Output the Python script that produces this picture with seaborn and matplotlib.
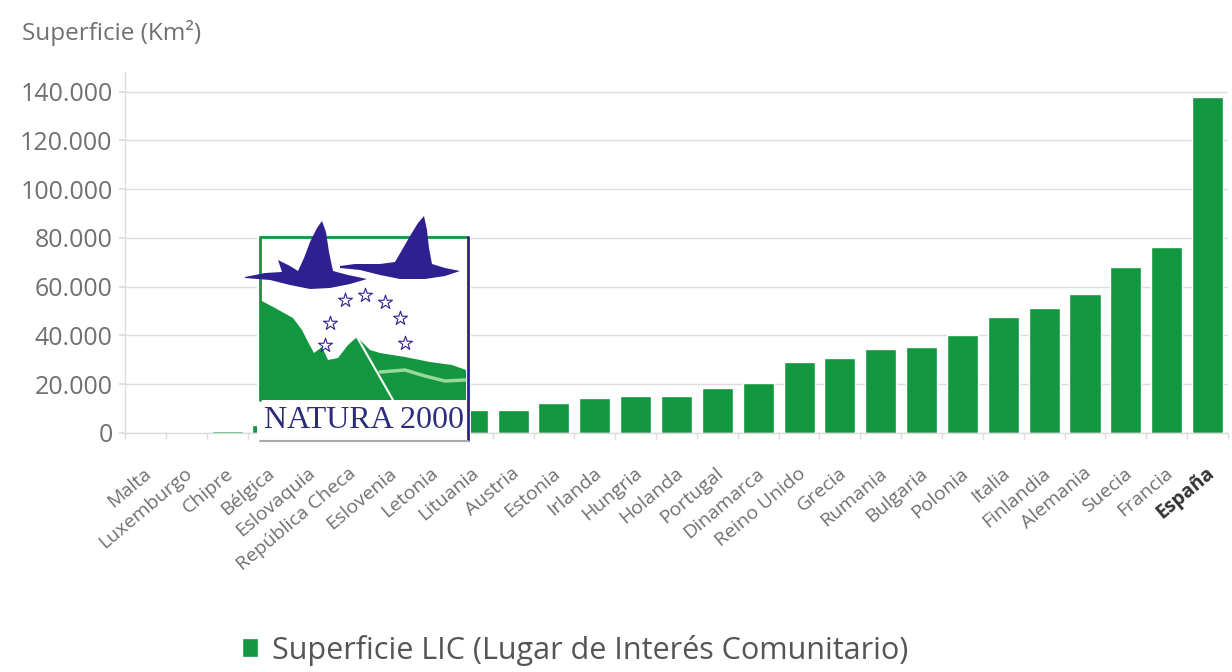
import matplotlib
matplotlib.use("Agg")
import matplotlib.pyplot as plt
import matplotlib.transforms as mtransforms
from matplotlib.patches import Polygon, Rectangle
import seaborn as sns
import pandas as pd
import numpy as np

# datos (km2)
paises = ["Malta", "Luxemburgo", "Chipre", "Bélgica", "Eslovaquia", "República Checa",
          "Eslovenia", "Letonia", "Lituania", "Austria", "Estonia", "Irlanda", "Hungria",
          "Holanda", "Portugal", "Dinamarca", "Reino Unido", "Grecia", "Rumania", "Bulgaria",
          "Polonia", "Italia", "Finlandia", "Alemania", "Suecia", "Francia", "España"]
superficie_lic = [40, 400, 750, 3200, 5700, 7300,
                  7400, 7800, 9300, 9300, 12400, 14500, 15200,
                  15200, 18300, 20400, 29300, 30700, 34400, 35200,
                  40300, 47500, 51300, 57100, 68200, 76100, 137700]
serie = "Superficie LIC (Lugar de Interés Comunitario)"
y_ticks = [0, 20000, 40000, 60000, 80000, 100000, 120000, 140000]

verde = "#12963f"
gris_texto = "#707070"
gris_rejilla = "#dcdcdc"
morado = "#2e2090"

df = pd.DataFrame({"pais": paises, "superficie": superficie_lic})

sns.set_theme(style="whitegrid")
plt.rcParams["font.family"] = ["Open Sans", "DejaVu Sans"]

fig = plt.figure(figsize=(12.32, 6.72), dpi=100)
ax = fig.add_axes([125 / 1232, 1 - 433 / 672, 1103 / 1232, 361 / 672])

sns.barplot(data=df, x="pais", y="superficie", color=verde, saturation=1,
            width=0.76, label=serie, ax=ax)

ax.set_ylim(0, 148000)
ax.set_yticks(y_ticks)
ax.set_yticklabels([f"{v:,}".replace(",", ".") for v in y_ticks])
ax.set_xlabel("")
ax.set_ylabel("")
ax.set_axisbelow(True)
ax.yaxis.grid(True, color=gris_rejilla, lw=1)
ax.xaxis.grid(False)
for s in ["top", "right"]:
    ax.spines[s].set_visible(False)
for s in ["left", "bottom"]:
    ax.spines[s].set_color(gris_rejilla)
    ax.spines[s].set_linewidth(1)

ax.tick_params(axis="y", length=4, color=gris_rejilla, labelsize=18,
               labelcolor=gris_texto, pad=5, left=True)
ax.set_xticks(np.arange(-0.5, len(paises), 1), minor=True)
ax.tick_params(axis="x", which="major", length=0, pad=0, labelsize=14, labelcolor=gris_texto)
ax.tick_params(axis="x", which="minor", length=4, color=gris_rejilla, bottom=True)
plt.setp(ax.get_xticklabels(), rotation=40, ha="right", va="center", rotation_mode="anchor")
desplaza = mtransforms.ScaledTranslation(4 / 100, -38 / 100, fig.dpi_scale_trans)
for lbl in ax.get_xticklabels():
    lbl.set_transform(lbl.get_transform() + desplaza)
    if lbl.get_text() == "España":
        lbl.set_fontweight("bold")
        lbl.set_color("#333333")

fig.text(22 / 1232, 1 - 33 / 672, "Superficie (Km²)", fontsize=17.5,
         color=gris_texto, va="center", ha="left")

ax.legend(loc="center left", bbox_to_anchor=(214 / 1232, 1 - 650 / 672),
          bbox_transform=fig.transFigure, frameon=False, fontsize=22,
          handlelength=0.55, handleheight=0.55, handletextpad=0.45, labelcolor="#555555")

# logo Natura 2000 (simplificado)
lg = fig.add_axes([230 / 1232, 1 - 450 / 672, 260 / 1232, 250 / 672], zorder=5)
lg.set_xlim(0, 260)
lg.set_ylim(250, 0)
lg.axis("off")
lg.patch.set_alpha(0)
lg.add_patch(Rectangle((27, 35), 214, 207, facecolor="white", edgecolor="none"))
lg.plot([30, 238], [37, 37], color=verde, lw=2)
lg.plot([30, 30], [37, 200], color=verde, lw=2)
lg.plot([238, 238], [37, 240], color=morado, lw=2)
lg.plot([30, 238], [241, 241], color="#aaaaaa", lw=1.5)
monte = [(30, 100), (45, 108), (63, 118), (72, 130), (78, 142), (84, 153), (92, 147),
         (98, 160), (108, 158), (118, 145), (127, 137), (140, 150), (150, 153), (175, 157),
         (200, 162), (222, 165), (236, 170), (236, 200), (30, 200)]
lg.add_patch(Polygon(monte, closed=True, facecolor=verde, edgecolor="none"))
lg.plot([127, 163], [137, 200], color="white", lw=1.5)
lg.plot([150, 175, 195, 215, 235], [172, 170, 176, 181, 180], color="#9ad89a", lw=2.5)
estrellas_x = [95, 100, 115, 135, 155, 170, 175]
estrellas_y = [145, 123, 100, 95, 102, 118, 143]
lg.scatter(estrellas_x, estrellas_y, marker="*", s=110, facecolor="white",
           edgecolor=morado, linewidth=0.8, zorder=3)
ave1 = [(15, 77), (35, 73), (52, 72), (48, 60), (60, 66), (68, 71), (74, 58), (80, 42),
        (87, 28), (92, 21), (96, 32), (99, 52), (103, 71), (118, 75), (137, 79), (120, 84),
        (100, 88), (80, 89), (60, 85), (40, 80), (15, 78)]
ave2 = [(110, 66), (125, 64), (150, 64), (165, 62), (172, 50), (180, 36), (188, 23),
        (194, 16), (197, 30), (199, 48), (202, 64), (215, 68), (230, 71), (215, 76),
        (195, 79), (170, 79), (150, 75), (130, 70), (110, 68)]
for ave in (ave1, ave2):
    lg.add_patch(Polygon(ave, closed=True, facecolor=morado, edgecolor="none", zorder=4))
lg.text(134, 220, "NATURA 2000", family="Liberation Serif", fontsize=23,
        color="#2b2d7a", ha="center", va="center")

fig.savefig("out.png", dpi=100)
